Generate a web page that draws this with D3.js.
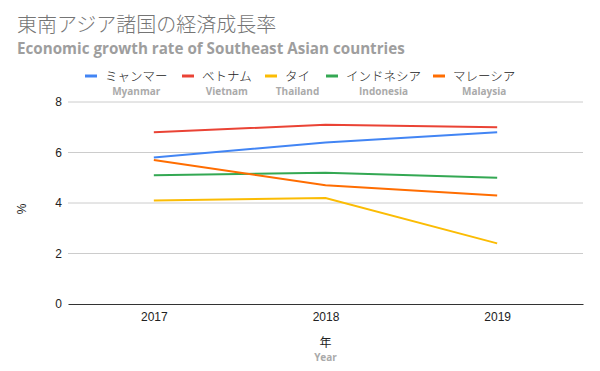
<!DOCTYPE html>
<html>
<head>
<meta charset="utf-8">
<script src="https://cdn.jsdelivr.net/npm/d3@7"></script>
<style>
  body { margin: 0; background: #fff; }
  svg { display: block; }
</style>
</head>
<body>
<svg id="chart" width="600" height="371"></svg>
<script>
// data
const years = ["2017", "2018", "2019"];
const seriesJa = ["ミャンマー", "ベトナム", "タイ", "インドネシア", "マレーシア"];
const seriesEn = ["Myanmar", "Vietnam", "Thailand", "Indonesia", "Malaysia"];
const colors = ["#4285f4", "#ea4335", "#fbbc04", "#34a853", "#ff6d01"];
const myanmar = [5.8, 6.4, 6.8];
const vietnam = [6.8, 7.1, 7.0];
const thailand = [4.1, 4.2, 2.4];
const indonesia = [5.1, 5.2, 5.0];
const malaysia = [5.7, 4.7, 4.3];
const yTicks = [0, 2, 4, 6, 8];

const allSeries = [myanmar, vietnam, thailand, indonesia, malaysia];

const svg = d3.select("#chart");
const jpFont = "'Noto Sans CJK JP', 'Noto Sans', sans-serif";
const enFont = "'Open Sans', 'Noto Sans', sans-serif";
const axFont = "'Liberation Sans', Arial, sans-serif";

const margin = {left: 68, right: 17, top: 102, bottom: 67};
const width = 600 - margin.left - margin.right;
const height = 371 - margin.top - margin.bottom;

// titles
svg.append("text")
  .attr("x", 17).attr("y", 32)
  .attr("font-family", jpFont).attr("font-size", 20).attr("font-weight", 300)
  .attr("fill", "#757575")
  .text("東南アジア諸国の経済成長率");
svg.append("text")
  .attr("x", 17).attr("y", 54)
  .attr("font-family", enFont).attr("font-size", 15.2).attr("font-weight", 700)
  .attr("fill", "#9e9e9e")
  .text("Economic growth rate of Southeast Asian countries");

const g = svg.append("g").attr("transform", `translate(${margin.left},${margin.top})`);

const x = d3.scalePoint().domain(years).range([0, width]).padding(0.5);
const y = d3.scaleLinear().domain([0, 8]).range([height, 0]);

// grid
g.selectAll(".grid").data(yTicks.filter(d => d !== 0)).enter()
  .append("line")
  .attr("x1", 0).attr("x2", width)
  .attr("y1", d => y(d)).attr("y2", d => y(d))
  .attr("stroke", "#cccccc").attr("stroke-width", 1);

// y axis
const yAxis = g.append("g").call(d3.axisLeft(y).tickValues(yTicks).tickSize(0).tickPadding(6));
yAxis.select(".domain").remove();
yAxis.selectAll("text").attr("font-family", axFont).attr("font-size", 12).attr("fill", "#222");

// x axis
const xAxis = g.append("g").attr("transform", `translate(0,${height})`)
  .call(d3.axisBottom(x).tickSize(0).tickPadding(8));
xAxis.select(".domain").attr("stroke", "#333").attr("stroke-width", 1.2);
xAxis.selectAll("text").attr("font-family", axFont).attr("font-size", 12).attr("fill", "#222");

// lines
const line = d3.line().x((d, i) => x(years[i])).y(d => y(d));
allSeries.forEach((s, i) => {
  g.append("path")
    .datum(s)
    .attr("d", line)
    .attr("fill", "none")
    .attr("stroke", colors[i])
    .attr("stroke-width", 2);
});

// axis titles
svg.append("text")
  .attr("transform", "translate(26,209) rotate(-90)")
  .attr("text-anchor", "middle")
  .attr("font-family", axFont).attr("font-size", 12).attr("fill", "#222")
  .text("%");
svg.append("text")
  .attr("x", margin.left + x("2018")).attr("y", 347)
  .attr("text-anchor", "middle")
  .attr("font-family", jpFont).attr("font-size", 12).attr("fill", "#222")
  .text("年");
svg.append("text")
  .attr("x", margin.left + x("2018")).attr("y", 361)
  .attr("text-anchor", "middle")
  .attr("font-family", enFont).attr("font-size", 10).attr("font-weight", 700)
  .attr("fill", "#aaaaaa")
  .text("Year");

// legend (swatch positions follow the reference layout)
const legendX = [85, 182, 265, 326, 433];
const legend = svg.append("g");
seriesJa.forEach((name, i) => {
  const lx = legendX[i];
  const item = legend.append("g");
  item.append("line")
    .attr("x1", lx).attr("x2", lx + 12)
    .attr("y1", 76).attr("y2", 76)
    .attr("stroke", colors[i]).attr("stroke-width", 3);
  const jt = item.append("text")
    .attr("x", lx + 20).attr("y", 81)
    .attr("font-family", jpFont).attr("font-size", 12.5).attr("font-weight", 300)
    .attr("fill", "#222")
    .text(name);
  const jw = jt.node().getComputedTextLength();
  item.append("text")
    .attr("x", lx + 20 + jw / 2).attr("y", 95)
    .attr("text-anchor", "middle")
    .attr("font-family", enFont).attr("font-size", 10).attr("font-weight", 700)
    .attr("fill", "#aaaaaa")
    .text(seriesEn[i]);
});
</script>
</body>
</html>
